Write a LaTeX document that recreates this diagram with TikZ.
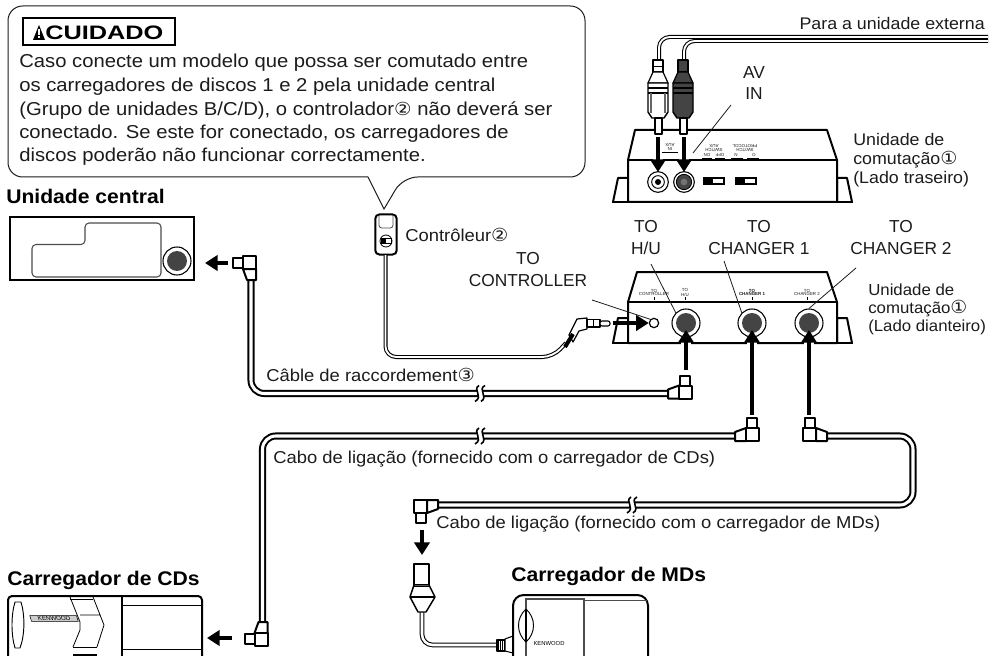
\documentclass[tikz,border=0pt]{standalone}
\usepackage{fontspec}
\setmainfont{Liberation Sans}
\newfontfamily\symf{DejaVu Sans}
\usetikzlibrary{arrows.meta}
\definecolor{ink}{HTML}{1C1C1C}
\definecolor{dark}{HTML}{444444}
\newcommand{\circled}[1]{{\symf\fontsize{13.5}{14}\selectfont #1}}
\tikzset{
  body/.style={draw=black,line width=1.5pt,line join=round},
  thin line/.style={draw=ink,line width=.6pt},
  grayline/.style={draw=black!70,line width=.8pt},
  cable/.style={draw=black,line width=1.5pt,double=white,double distance=2.3pt,rounded corners=10pt},
  wire/.style={draw=black,line width=.8pt,double=white,double distance=1.4pt,rounded corners=8pt},
  bigarrow/.style={draw=black,line width=3.7pt,-{Triangle[length=9.5pt,width=11.5pt]}},
  lbl/.style={inner sep=0pt,text=ink,font=\fontsize{13}{16}\selectfont},
  warn/.style={inner sep=0pt,text=ink,xscale=1.085,font=\fontsize{14}{16}\selectfont},
  small/.style={inner sep=0pt,text=ink,xscale=1.05,font=\fontsize{12}{13.6}\selectfont},
  smallb/.style={inner sep=0pt,text=ink,xscale=1.06,font=\fontsize{12.6}{13.6}\selectfont},
  note/.style={inner sep=0pt,text=ink,xscale=1.07,font=\fontsize{12.9}{15}\selectfont},
  head/.style={inner sep=0pt,text=black,xscale=1.07,font=\bfseries\fontsize{14.8}{16}\selectfont},
  mini/.style={inner sep=0pt,text=ink,align=center,font=\fontsize{3.3}{2.4}\selectfont},
  jackouter/.style={circle,draw=black,line width=.8pt,fill=white,inner sep=0pt,minimum size=21pt},
  jackinner/.style={circle,draw=none,fill=dark,inner sep=0pt,minimum size=15pt},
  plugpic/.pic={
    \draw[body,fill=white] (0,-4) -- (11,-8) -- (11,5) -- (0,5) -- cycle;
    \draw[body,fill=white] (11,-8) rectangle (24,5);
    \draw[body,fill=white] (12,-18) rectangle (22,-8);
  },
  cutmark/.pic={
    \fill[white] (-1,-8) .. controls (-8,-4) and (4,3) .. (-5,8) -- (1,8) .. controls (9,3) and (-3,-4) .. (5,-8) -- cycle;
    \draw[black,line width=1.2pt] (-1,-8) .. controls (-8,-4) and (4,3) .. (-5,8);
    \draw[black,line width=1.2pt] (5,-8) .. controls (-3,-4) and (9,3) .. (1,8);
  },
}
\begin{document}
\begin{tikzpicture}[x=.75pt,y=-.75pt]
\useasboundingbox (0,0) rectangle (996,656);
\clip (0,0) rectangle (996,656);
\fill[white] (0,0) rectangle (996,656);

% ---- warning bubble
\coordinate (tailL) at (368,177);
\coordinate (tailT) at (384,209);
\coordinate (tailR) at (403,177);
\draw[draw=ink,line width=.75pt,rounded corners=11pt]
  (tailL) -- (8,177) -- (8,6) -- (585,6) -- (585,177) -- (tailR)
  [sharp corners] -- (tailT) -- (tailL);
\node[draw=black,line width=1.5pt,minimum width=114pt,minimum height=20pt,inner sep=0pt] (warnbox) at (99,31.5) {};
\fill[black] (33,40) -- (39,25) -- (45,40) -- cycle;
\fill[white] (38.2,29.5) rectangle (39.8,35.5);
\fill[white] (38.2,36.5) rectangle (39.8,38.5);
\node[inner sep=0pt,anchor=base west,text=black,xscale=1.3,font=\bfseries\fontsize{14.6}{16}\selectfont] (warnttl) at (45,40) {CUIDADO};
\node[warn,anchor=base west] (w1) at (19,68) {Caso conecte um modelo que possa ser comutado entre};
\node[warn,anchor=base west] (w2) at (19,92) {os carregadores de discos 1 e 2 pela unidade central};
\node[warn,anchor=base west] (w3) at (19,115.5) {(Grupo de unidades B/C/D), o controlador\circled{②} não deverá ser};
\node[warn,anchor=base west] (w4) at (19,139) {conectado. Se este for conectado, os carregadores de};
\node[warn,anchor=base west] (w5) at (19,162) {discos poderão não funcionar correctamente.};

% ---- head unit
\node[head,anchor=base west] (hulbl) at (6,204) {Unidade central};
\node[draw=black,line width=1.4pt,fill=white,minimum width=138pt,minimum height=47pt,inner sep=0pt] (hu) at (102,248.5) {};
\draw[grayline,rounded corners=3pt] (85,223) -- (161,223) -- (161,277) -- (32,277) -- (32,244.5) -- (85,244.5) -- cycle;
\node[jackouter] (hujack) at (177,261) {};
\node[jackinner] (hujackin) at (177,261) {};

% ---- rear unit
\draw[body,fill=white] (613,202) -- (618,178) -- (628,178) -- (628,202);
\draw[body,fill=white] (852,202) -- (847,178) -- (837,178) -- (837,202);
\draw[body,fill=white] (628,160) -- (635,130) -- (827,130) -- (837,160) -- (837,202) -- (628,202) -- cycle;
\draw[body] (612,202) -- (853,202);
\draw[draw=black,line width=1.1pt] (628,160) -- (837,160);
\node[mini,rotate=180] (rAux) at (670,147) {IN\\AUX};
\draw[draw=black,line width=.5pt] (662,152) -- (678,152);
\node[mini,rotate=180] (rAuxSw) at (714,148) {SWITCH\\AUX};
\node[mini,rotate=180] (rOn) at (707,155) {ON};
\node[mini,rotate=180] (rOff) at (720,155) {OFF};
\draw[draw=black,line width=.5pt] (702,158) -- (712,158) (715,158) -- (725,158);
\node[mini,rotate=180] (rPrSw) at (745,148) {SWITCH\\PROTOCOL};
\node[mini,rotate=180] (rN) at (736,155) {N};
\node[mini,rotate=180] (rO) at (754,155) {O};
\draw[draw=black,line width=.5pt] (731,158) -- (743,158) (747,158) -- (759,158);
\node[jackouter,minimum size=15.5pt] (rj1) at (658,182) {};
\node[circle,draw=black,line width=.7pt,fill=white,minimum size=9.5pt,inner sep=0pt] (rj1b) at (658,182) {};
\node[circle,fill=black,minimum size=4.5pt,inner sep=0pt] (rj1c) at (658,182) {};
\node[jackouter,minimum size=15.5pt] (rj2) at (684,182) {};
\node[circle,fill=dark,draw=black,line width=.6pt,minimum size=11.5pt,inner sep=0pt] (rj2b) at (684,182) {};
\node[circle,fill=black!55,minimum size=5pt,inner sep=0pt] (rj2c) at (684,182) {};
\draw[draw=black,line width=.8pt,fill=white] (704,178) rectangle (724,184);
\fill[black] (705,178.5) rectangle (713,183.5);
\draw[draw=black,line width=.8pt,fill=white] (736,178) rectangle (756,184);
\fill[black] (737,178.5) rectangle (745,183.5);

% ---- RCA cables and plugs
\coordinate (rca1top) at (659,62);
\coordinate (rca2top) at (684,62);
\coordinate (ext1) at (988,37);
\coordinate (ext2) at (988,41);
\draw[wire] (rca1top) |- (ext1);
\draw[wire] (rca2top) |- (ext2);
\draw[body,line width=.9pt,fill=white] (653,60) rectangle (663,72);
\draw[body,line width=.9pt,fill=white] (653,72) -- (663,72) -- (668,83) -- (648,83) -- cycle;
\draw[draw=black,line width=.5pt] (653,66) -- (663,66);
\draw[body,line width=1.1pt,fill=white] (648,83) -- (668,83) -- (668,112) -- (664,118) -- (652,118) -- (648,112) -- cycle;
\draw[draw=black,line width=1pt] (648,88) -- (668,88) (648,93) -- (668,93);
\draw[draw=black!60,line width=1.5pt] (651,93) -- (651,113) (665,93) -- (665,113);
\draw[body,line width=.9pt,fill=white] (655,118) rectangle (662,134);
\draw[body,line width=.9pt,fill=dark] (678,60) rectangle (688,72);
\draw[body,line width=.9pt,fill=dark] (678,72) -- (688,72) -- (693,83) -- (673,83) -- cycle;
\draw[body,line width=1.1pt,fill=dark] (673,83) -- (693,83) -- (693,112) -- (689,118) -- (677,118) -- (673,112) -- cycle;
\draw[draw=black,line width=1pt] (673,88) -- (693,88) (673,93) -- (693,93);
\draw[body,line width=.9pt,fill=white] (680,118) rectangle (687,134);
\coordinate (ra1) at (658,137);
\coordinate (ra2) at (684,137);
\draw[white,line width=7.5pt] (658,155) -- (658,165);
\draw[white,line width=7.5pt] (684,155) -- (684,165);
\draw[bigarrow] (ra1) -- (658,172);
\draw[bigarrow] (ra2) -- (684,172);
\node[lbl,anchor=base] (av) at (754,79) {AV};
\node[lbl,anchor=base] (in) at (754,100) {IN};
\coordinate (avp) at (731,105);
\coordinate (avq) at (693,153);
\draw[thin line] (avp) -- (avq);
\node[smallb,anchor=base east] (ext) at (985,30) {Para a unidade externa};
\node[smallb,anchor=base west] (r1) at (853,146) {Unidade de};
\node[smallb,anchor=base west] (r2) at (853,165) {comutação\circled{①}};
\node[smallb,anchor=base west] (r3) at (853,184) {(Lado traseiro)};

% ---- controller
\node[draw=black,line width=1.5pt,fill=white,rounded corners=3pt,minimum width=16pt,minimum height=30pt,inner sep=0pt] (ctrl) at (386,234.5) {};
\draw[grayline,rounded corners=2pt,line width=.6pt] (379,215) -- (379,228) -- (393,228) -- (393,215);
\node[circle,draw=black,line width=.6pt,minimum size=9pt,inner sep=0pt] (ctrlsw) at (386,241) {};
\draw[draw=black,line width=.5pt] (381,238.5) rectangle (391,243.5);
\fill[black] (382,239) rectangle (386,243);
\node[note,anchor=base west] (ctrllbl) at (405,242) {Contrôleur\circled{②}};

% ---- front unit
\draw[body,fill=white] (613,343) -- (618,318) -- (628,318) -- (628,343);
\draw[body,fill=white] (852,343) -- (847,318) -- (837,318) -- (837,343);
\draw[body,fill=white] (628,302) -- (637,272) -- (827,272) -- (837,302) -- (837,343) -- (628,343) -- cycle;
\draw[body] (612,343) -- (853,343);
\draw[draw=black,line width=1.1pt] (628,302) -- (837,302);
\node[mini] (fcTo) at (654,292.5) {TO\\CONTROLLER};
\node[mini] (fhTo) at (685,292.5) {TO\\H/U};
\node[mini,font=\bfseries\fontsize{3.3}{2.4}\selectfont] (f1To) at (752,292.5) {TO\\CHANGER 1};
\node[mini] (f2To) at (807,292.5) {TO\\CHANGER 2};
\draw[draw=black,line width=.5pt] (654,297) -- (654,300) (685,297) -- (685,300) (752,297) -- (752,300) (807,297) -- (807,300);
\node[circle,draw=black,line width=.9pt,fill=white,minimum size=7pt,inner sep=0pt] (jc) at (654,323) {};
\node[jackouter] (jh) at (686,323) {};
\node[jackinner] (jhi) at (686,323) {};
\node[jackouter] (j1) at (752,323) {};
\node[jackinner] (j1i) at (752,323) {};
\node[jackouter] (j2) at (809,323) {};
\node[jackinner] (j2i) at (809,323) {};
\node[lbl,anchor=base] (th1) at (646,233) {TO};
\node[lbl,anchor=base] (th2) at (646,254) {H/U};
\node[lbl,anchor=base] (t11) at (759,233) {TO};
\node[lbl,anchor=base] (t12) at (759,254) {CHANGER 1};
\node[lbl,anchor=base] (t21) at (901,233) {TO};
\node[lbl,anchor=base] (t22) at (901,254) {CHANGER 2};
\node[lbl,anchor=base] (tc1) at (528,264) {TO};
\node[lbl,anchor=base] (tc2) at (528,286) {CONTROLLER};
\node[small,anchor=base west] (f1) at (868,295) {Unidade de};
\node[small,anchor=base west] (f2) at (868,313) {comutação\circled{①}};
\node[small,anchor=base west] (f3) at (868,331) {(Lado dianteiro)};
\draw[thin line] (651,264) -- (jh.north west);
\draw[thin line] (724,261) -- (j1.north west);
\draw[thin line] (856,268) -- (j2.north);
\draw[thin line] (592,300) -- (jc.north west);

% ---- arrows into the front unit
\draw[white,line width=8pt] (686,338) -- (686,348);
\draw[white,line width=8pt] (752,338) -- (752,348);
\draw[white,line width=8pt] (809,338) -- (809,348);
\coordinate (ah) at (686,370);
\coordinate (a1) at (752,415);
\coordinate (a2) at (809,415);
\draw[bigarrow] (ah) -- (686,330);
\draw[bigarrow] (a1) -- (752,330);
\draw[bigarrow] (a2) -- (809,330);
\coordinate (ac) at (613,323);
\draw[bigarrow] (ac) -- (jc.west);

% ---- controller cable and mini plug
\coordinate (ctrlout) at (385.5,255);
\coordinate (ctrlbend) at (385.5,357);
\coordinate (ctrlend) at (566,343);
\draw[wire] (ctrlout) -- (ctrlbend) -- (553,357) -- (ctrlend);
\draw[body,line width=.9pt,fill=white] (569,335) -- (577,319) -- (587,318) -- (587,329) -- (579,331) -- (573,342) -- cycle;
\draw[draw=black,line width=3pt] (573,334) -- (565,347);
\draw[body,line width=.8pt,fill=white] (587,319.5) rectangle (600,327);
\draw[draw=black,line width=.5pt] (593,319.5) -- (593,327);
\draw[body,line width=.8pt,fill=white,rounded corners=1.5pt] (600,321) rectangle (610,326);

% ---- connection cables
\coordinate (pC) at (251,280);
\coordinate (pH) at (668,393.5);
\coordinate (pA) at (735,436);
\coordinate (pD) at (262.5,622);
\coordinate (pB) at (827,436);
\coordinate (pE) at (438,505);
\coordinate (tr) at (913,436);
\coordinate (br) at (913,505);
\draw[cable] (pC) |- (pH);
\draw[cable] (pA) -| (pD);
\draw[cable] (pB) -- (tr) -- (br) -- (pE);
\pic at (480,393.5) {cutmark};
\pic at (480,436) {cutmark};
\pic at (632,505) {cutmark};
\pic at (pH) {plugpic};
\pic at (pA) {plugpic};
\pic[xscale=-1] at (pB) {plugpic};
\pic[rotate=90] at (pC) {plugpic};
\pic[rotate=-90,yscale=-1] at (pD) {plugpic};
\pic[rotate=180] at (pE) {plugpic};
\coordinate (ahu) at (228,263);
\coordinate (acd) at (232,638);
\coordinate (amd) at (422,530);
\draw[bigarrow,line width=3.4pt] (ahu) -- (205,263);
\draw[bigarrow,line width=3.4pt] (acd) -- (207,638);
\draw[bigarrow,line width=3.4pt] (amd) -- (422,555);
\node[note,anchor=base west] (lb1) at (266,381) {Câble de raccordement\circled{③}};
\node[note,anchor=base west] (lb2) at (273,463) {Cabo de ligação (fornecido com o carregador de CDs)};
\node[note,anchor=base west] (lb3) at (436,528) {Cabo de ligação (fornecido com o carregador de MDs)};

% ---- CD changer
\node[head,anchor=base west] (cdlbl) at (7,585) {Carregador de CDs};
\draw[body,rounded corners=3pt] (8,664) -- (8,596) -- (202,596) -- (202,664);
\draw[draw=black,line width=1.5pt] (122,596) -- (122,664);
\draw[draw=black,line width=.6pt] (123,605) -- (201,605) (123,649) -- (201,649);
\draw[draw=black,line width=.7pt] (15,602) .. controls (11,615) and (11,635) .. (15,648) -- (20,648) .. controls (25,635) and (25,615) .. (21,602) -- cycle;
\node[draw=black,fill=black!20,line width=.4pt,inner sep=.6pt,anchor=center,font=\fontsize{4.6}{5}\selectfont,xslant=-.3,text=black,minimum width=35pt] (cdbadge) at (54,618.5) {KENWOOD};
\draw[draw=black,line width=.6pt] (70,597) -- (80,622) -- (80,630) -- (73,647) (93,597) -- (104,625) -- (97,647) (80,615) -- (100,615);
\draw[draw=black,line width=.6pt] (70,599) -- (93,599) (73,647) -- (97,647);
\draw[draw=black,line width=2pt] (73,655) -- (97,655);

% ---- MD changer and plug
\node[head,anchor=base west] (mdlbl) at (511,581) {Carregador de MDs};
\coordinate (mdp) at (422,612);
\coordinate (mds) at (497,645);
\draw[wire,double distance=1.9pt] (mdp) |- (mds);
\draw[body,line width=1.1pt,fill=white] (414,564) -- (429,564) -- (429,585) -- (414,585) -- cycle;
\draw[body,line width=1.1pt,fill=white] (414,585) -- (429,585) -- (435,597) -- (426,612) -- (418,612) -- (410,597) -- cycle;
\draw[draw=black,line width=1.4pt] (410,597) -- (435,597);
\draw[draw=black,line width=.5pt] (414,586) -- (429,586);
\draw[body,line width=.8pt,fill=white] (497,640) rectangle (505,651);
\foreach \sx in {498,500,502,504} \draw[draw=black,line width=.7pt] (\sx,640) -- (\sx,651);
\draw[body,line width=.8pt,fill=white] (505,639) -- (513,636) -- (513,653) -- (505,651) -- cycle;
\draw[body,rounded corners=8pt,fill=white] (513,664) -- (513,595) -- (648,595) -- (648,664);
\draw[grayline] (526,664) -- (526,599) -- (584,599) -- (584,664);
\draw[grayline,line width=.6pt] (584,600) -- (647,600);
\draw[draw=black,line width=.7pt] (526,609) .. controls (516,618) and (516,633) .. (526,642) .. controls (536,633) and (536,618) .. (526,609);
\draw[draw=black,line width=.8pt] (526,609) -- (526,642);
\node[inner sep=0pt,font=\fontsize{4.4}{5}\selectfont,text=black] (mdkw) at (549,643.5) {KENWOOD};
\end{tikzpicture}
\end{document}
